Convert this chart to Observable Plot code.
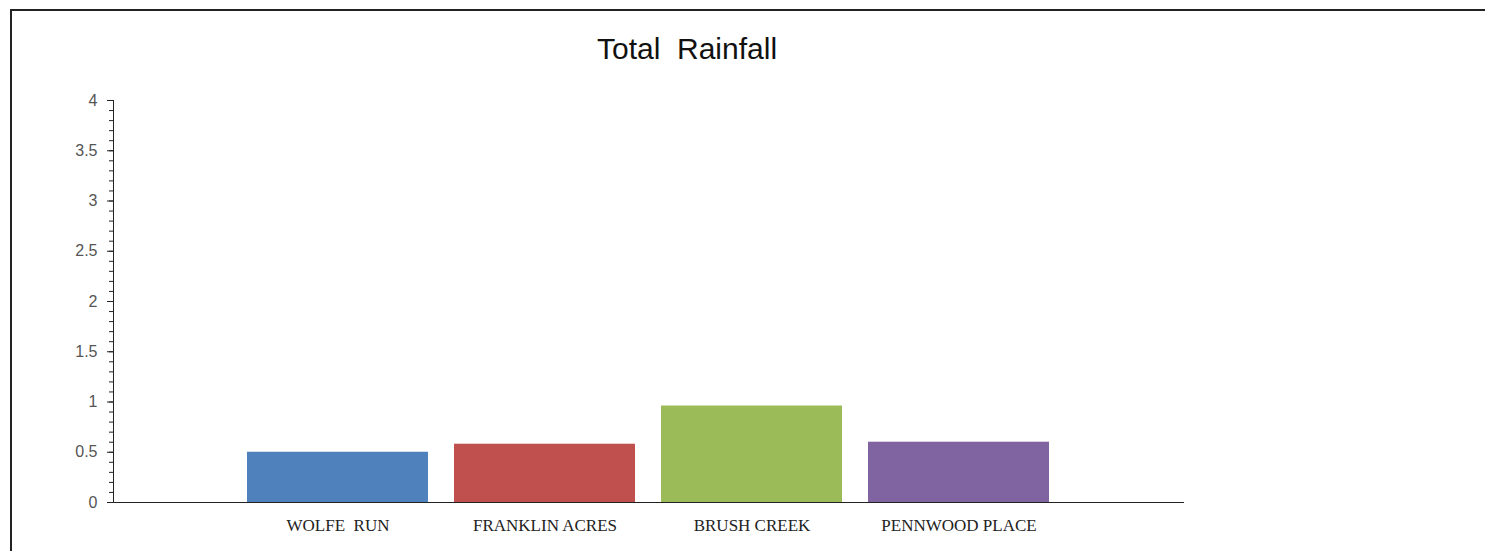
<!DOCTYPE html>
<html>
<head>
<meta charset="utf-8">
<script src="https://cdn.jsdelivr.net/npm/d3@7"></script>
<script src="https://cdn.jsdelivr.net/npm/@observablehq/plot@0.6"></script>
<style>
  html, body { margin: 0; padding: 0; background: #fff; overflow: hidden; width: 1485px; height: 551px; }
  #frame { position: absolute; left: 10px; top: 9px; width: 1600px; height: 700px; border-left: 2px solid #222; border-top: 2px solid #222; box-sizing: border-box; }
  #title { position: absolute; left: 0; width: 1374px; top: 34px; line-height: 30px; text-align: center; font-family: "Liberation Sans", Arial, sans-serif; font-size: 30px; color: #111; white-space: pre; }
  #chart { position: absolute; left: 0; top: 0; }
  #chart svg text { white-space: pre; }
</style>
</head>
<body>
<div id="frame"></div>
<div id="title">Total  Rainfall</div>
<div id="chart"></div>
<script>
const categories = ["WOLFE  RUN", "FRANKLIN ACRES", "BRUSH CREEK", "PENNWOOD PLACE"];
const rainfall = [0.50, 0.58, 0.96, 0.60];
const colors = ["#4f81bd", "#c0504d", "#9bbb59", "#8064a2"];
const majorTicks = [0, 0.5, 1, 1.5, 2, 2.5, 3, 3.5, 4];
const minorTicks = d3.range(0, 41).map(i => i / 10);

const data = categories.map((c, i) => ({category: c, value: rainfall[i], color: colors[i]}));

const chart = Plot.plot({
  width: 1485,
  height: 551,
  marginTop: 100,
  marginBottom: 49,
  marginLeft: 113,
  marginRight: 302,
  style: {background: "transparent", fontFamily: "Liberation Sans, Arial, sans-serif"},
  x: {domain: categories, paddingInner: 0.126, paddingOuter: 0.647, align: 0.5, label: null},
  y: {domain: [0, 4], label: null},
  marks: [
    Plot.barY(data, {x: "category", y: "value", fill: "color"}),
    Plot.axisY({ticks: minorTicks, tickSize: 4, text: null, label: null, stroke: "#222"}),
    Plot.axisY({ticks: majorTicks, tickSize: 6, tickPadding: 10, tickFormat: d => String(d), fontSize: 16, fill: "#555", stroke: "#222", label: null}),
    Plot.axisX({tickSize: 0, tickPadding: 16, fontSize: 17, fontFamily: "Liberation Serif, Times New Roman, serif", fill: "#222", label: null}),
    Plot.frame({anchor: "left", stroke: "#222"}),
    Plot.frame({anchor: "bottom", stroke: "#222"})
  ]
});
document.getElementById("chart").appendChild(chart);
</script>
</body>
</html>
